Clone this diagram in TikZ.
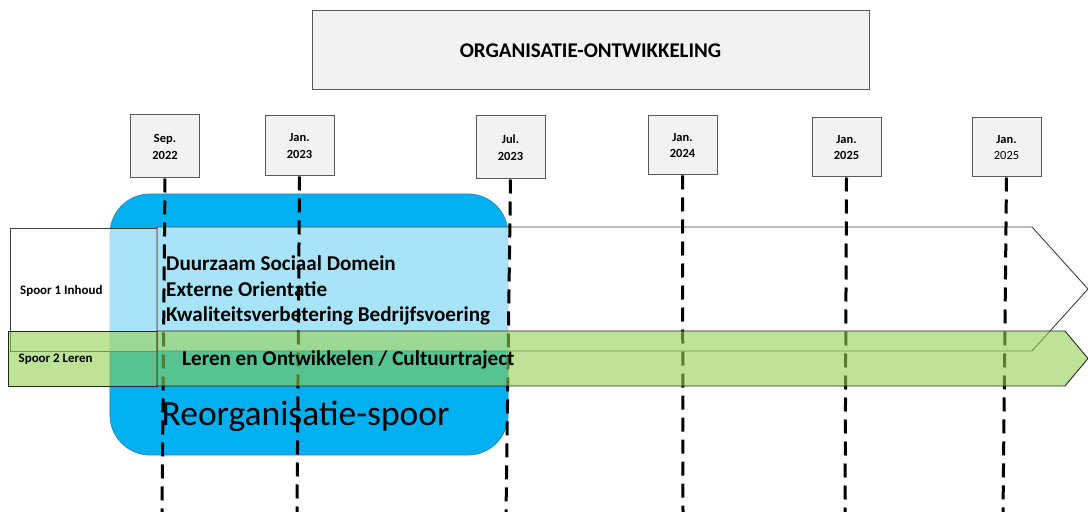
\documentclass[tikz,border=0pt]{standalone}
\usepackage{fontspec}
\setmainfont{Carlito}
\definecolor{boxfill}{HTML}{F2F2F2}
\definecolor{boxline}{HTML}{595959}
\definecolor{reoblue}{HTML}{00B0F0}
\definecolor{reoline}{HTML}{3A86B8}
\definecolor{spgreen}{HTML}{92D050}
\begin{document}
\begin{tikzpicture}[x=1bp,y=-1bp,
  datebox/.style={draw=boxline, line width=1bp, fill=boxfill, minimum width=69bp, minimum height=60bp, inner sep=0pt, align=center, font=\fontsize{12.5}{17}\selectfont\bfseries},
  titlebox/.style={draw=boxline, line width=1bp, fill=boxfill, minimum width=557bp, minimum height=79bp, inner sep=0pt, font=\fontsize{21}{25}\selectfont\bfseries},
  timeline/.style={line width=3bp, dash pattern=on 14bp off 8bp},
  whitelane/.style={draw=black!75, line width=0.9bp, fill=white, fill opacity=0.66},
  greenlane/.style={draw=black!85, line width=0.9bp, fill=spgreen, fill opacity=0.6},
  lanetext/.style={anchor=base west, inner sep=0pt, font=\fontsize{21.2}{25}\selectfont\bfseries},
  labeltext/.style={anchor=base west, inner sep=0pt, font=\fontsize{13}{15}\selectfont\bfseries},
  reobox/.style={draw=reoline, line width=0.8bp, fill=reoblue, rounded corners=40bp, minimum width=398bp, minimum height=261bp, inner sep=0pt}
]
\useasboundingbox (0,0) rectangle (1088,512);

% title
\node[titlebox] (title) at (590.5,50.5) {ORGANISATIE-ONTWIKKELING};

% date boxes
\node[datebox, minimum height=63bp] (d1) at (165,146.5) {Sep.\\2022};
\node[datebox] (d2) at (299.5,146) {Jan.\\2023};
\node[datebox, minimum height=63bp] (d3) at (510.5,147.5) {Jul.\\2023};
\node[datebox, minimum height=59bp] (d4) at (682.5,145.5) {Jan.\\2024};
\node[datebox, minimum height=59bp] (d5) at (846.5,147.5) {Jan.\\2025};
\node[datebox, minimum height=59bp] (d6) at (1006.5,147.5) {Jan.\\{\mdseries 2025}};

% reorganisation box
\node[reobox] (reo) at (309,324.5) {};

% spoor 1
\draw[whitelane] (10,228) rectangle (157,351);
\draw[whitelane] (157,227) -- (1032,227) -- (1088,289) -- (1032,351) -- (157,351) -- cycle;

% time lines
\coordinate (e1) at (162,515);
\coordinate (e2) at (297,515);
\coordinate (e3) at (506,515);
\coordinate (e4) at (683,515);
\coordinate (e5) at (845,515);
\coordinate (e6) at (1003,515);
\foreach \i in {1,...,6} \draw[timeline] (d\i.south) -- (e\i);

% spoor 1 texts
\node[labeltext] (s1) at (20,295) {Spoor 1 Inhoud};
\node[lanetext] (t1) at (166,271) {Duurzaam Sociaal Domein};
\node[lanetext] (t2) at (166,296.5) {Externe Orientatie};
\node[lanetext] (t3) at (166,321.5) {Kwaliteitsverbetering Bedrijfsvoering};

% spoor 2
\draw[greenlane] (8,331) rectangle (157,386);
\draw[greenlane] (157,331) -- (1065,331) -- (1088,358.5) -- (1065,386) -- (157,386) -- cycle;
\node[labeltext] (s2) at (18.5,362.5) {Spoor 2 Leren};
\node[lanetext] (t4) at (182,366) {Leren en Ontwikkelen / Cultuurtraject};

% reorganisation label
\node[anchor=base west, inner sep=0pt, font=\fontsize{35.6}{40}\selectfont] (reolabel) at (161.5,425) {Reorganisatie-spoor};
\end{tikzpicture}
\end{document}
